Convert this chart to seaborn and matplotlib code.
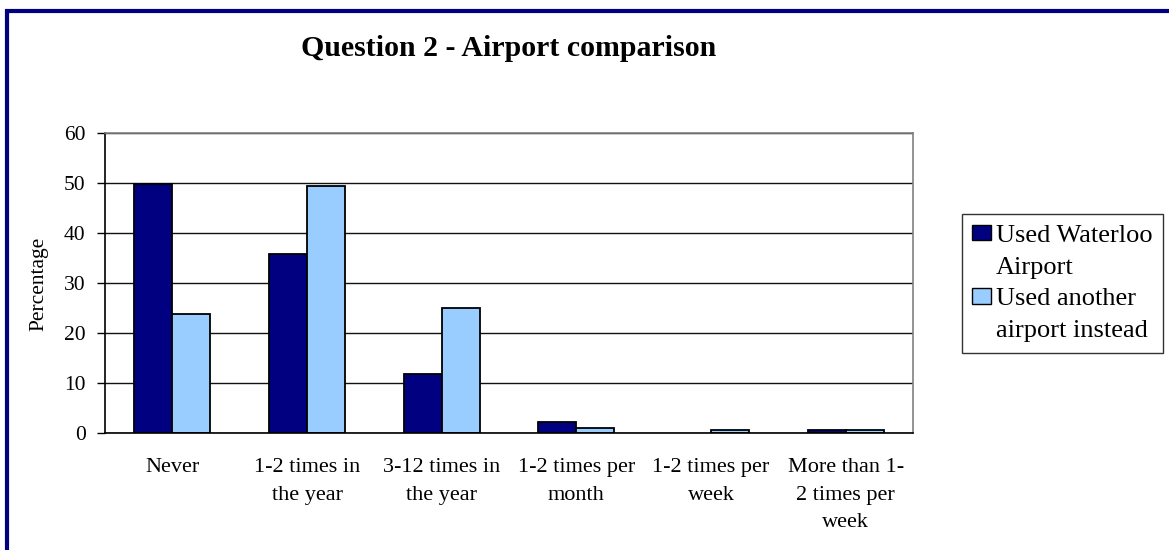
import pandas as pd
import numpy as np
import matplotlib.pyplot as plt
import seaborn as sns
from matplotlib.patches import Patch
from matplotlib.lines import Line2D

# data
categories = ["Never", "1-2 times in\nthe year", "3-12 times in\nthe year",
              "1-2 times per\nmonth", "1-2 times per\nweek", "More than 1-\n2 times per\nweek"]
waterloo = [49.7, 35.8, 11.9, 2.3, 0.0, 0.7]
another = [23.8, 49.3, 25.0, 1.1, 0.7, 0.7]
series = ["Used Waterloo Airport", "Used another airport instead"]
legend_lines = [["Used Waterloo", "Airport"], ["Used another", "airport instead"]]
colors = ["#000080", "#99CCFF"]

df = pd.DataFrame({
    "cat": categories * 2,
    "val": waterloo + another,
    "series": [series[0]] * len(categories) + [series[1]] * len(categories),
})

sns.set_style("white")
plt.rcParams['font.family'] = ['Liberation Serif', 'DejaVu Serif']
for k in ["text.color", "axes.labelcolor", "xtick.color", "ytick.color"]:
    plt.rcParams[k] = "black"

fig = plt.figure(figsize=(11.69, 5.5), dpi=100)
ax = fig.add_axes([105 / 1169, 1 - 433.3 / 550, (913 - 105) / 1169, (433.3 - 132.7) / 550])

sns.barplot(data=df, x="cat", y="val", hue="series", palette=colors, saturation=1,
            width=0.565, gap=0, edgecolor="black", linewidth=1.3,
            legend=False, ax=ax)
# no outline for empty bars
for p in ax.patches:
    if p.get_height() == 0:
        p.set_visible(False)

ax.set_ylim(0, 60)
ax.set_xlim(-0.5, len(categories) - 0.5)
ax.set_yticks(range(0, 61, 10))
ax.yaxis.grid(True, color="#111111", linewidth=1)
ax.set_axisbelow(True)
for s in ax.spines.values():
    s.set_color("#808080")
    s.set_linewidth(1.2)
ax.spines["left"].set_color("black")
ax.spines["bottom"].set_color("black")

# Excel-style ticks at category boundaries
ax.set_xticks(np.arange(len(categories)))
ax.set_xticklabels(categories, fontsize=16, linespacing=1.6, va="top")
ax.tick_params(axis="x", which="major", length=0, pad=18)
ax.set_xticks(np.arange(-0.5, len(categories)), minor=True)
ax.tick_params(axis="x", which="minor", length=6, width=1, direction="out", color="black")
ax.tick_params(axis="y", length=6, width=1, direction="out", color="black",
               labelsize=15.5, left=True, pad=8)

ax.set_xlabel("")
ax.set_ylabel("")
fig.text(39 / 1169, 1 - 284 / 550, "Percentage", rotation=90, ha="center", va="center",
         fontsize=15.5)

fig.text(509 / 1169, 1 - 56.5 / 550, "Question 2 - Airport comparison", ha="center",
         va="baseline", fontsize=21.5, fontweight="bold")

# legend: marker beside first line of each entry, as in the original
handles, labels = [], []
for c, lines in zip(colors, legend_lines):
    handles.append(Patch(facecolor=c, edgecolor="black", linewidth=1))
    labels.append(lines[0])
    handles.append(Patch(facecolor="none", edgecolor="none"))
    labels.append(lines[1])
leg = fig.legend(handles, labels, loc="upper left",
                 bbox_to_anchor=(961.7 / 1169, 1 - 214 / 550),
                 fontsize=19, frameon=True, fancybox=False, edgecolor="black",
                 handlelength=0.7, handleheight=0.55, handletextpad=0.2,
                 borderpad=0.4, labelspacing=0.36, borderaxespad=0)
leg.get_frame().set_linewidth(1)

# navy frame: left and top edges only are visible in the original
fig.add_artist(Line2D([7 / 1169, 7 / 1169], [0, 1 - 9.3 / 550], transform=fig.transFigure,
                      color="#000080", linewidth=3, solid_capstyle="butt"))
fig.add_artist(Line2D([5 / 1169, 1], [1 - 11.3 / 550, 1 - 11.3 / 550], transform=fig.transFigure,
                      color="#000080", linewidth=3, solid_capstyle="butt"))

fig.savefig("out.png", dpi=100)
